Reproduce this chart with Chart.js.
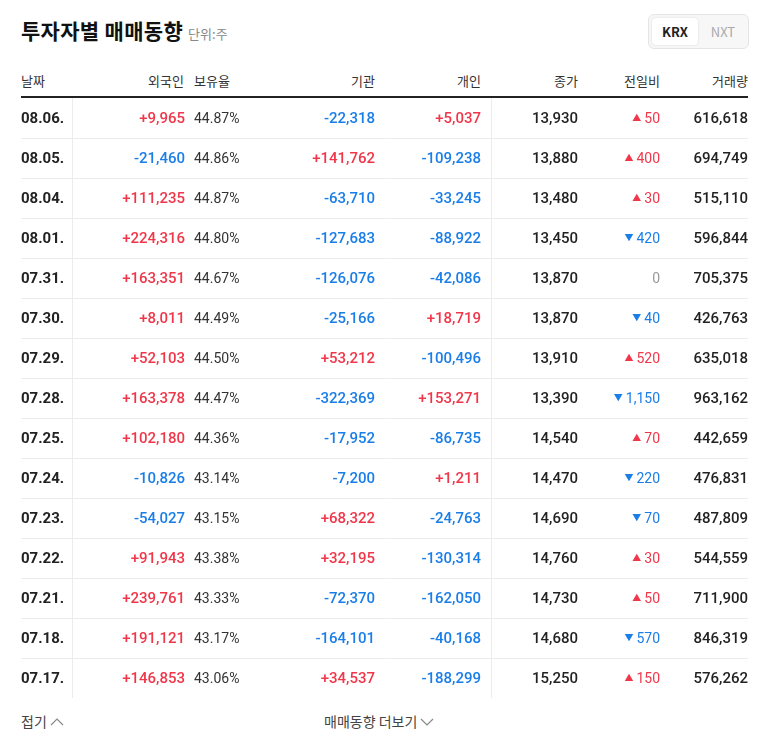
<!DOCTYPE html>
<html><head><meta charset="utf-8">
<script src="https://cdn.jsdelivr.net/npm/chart.js@4.4.0/dist/chart.umd.min.js"></script>
<style>
body{margin:0;background:#fff;font-family:"Noto Sans CJK KR","Noto Sans",sans-serif;width:768px;height:749px;position:relative;overflow:hidden;color:#222}
.a{position:absolute;white-space:nowrap}
.h{top:71px;font-size:13px;color:#333}
</style></head><body>
<div class="a" style="left:21px;top:15px;font-size:21px;font-weight:700;color:#111;letter-spacing:0.3px">투자자별 매매동향 <span style="font-size:13px;font-weight:400;color:#888;letter-spacing:0">단위:주</span></div>
<div class="a" style="left:648px;top:14px;width:99px;height:33px;border:1px solid #e5e5e5;border-radius:6px;background:#f7f7f7"></div>
<div class="a" style="left:652px;top:18px;width:46px;height:27px;background:#fff;border-radius:4px;box-shadow:0 0 2px rgba(0,0,0,.15);font-size:13px;font-weight:700;text-align:center;line-height:27px">KRX</div>
<div class="a" style="left:700px;top:18px;width:46px;height:27px;font-size:13px;color:#aaa;text-align:center;line-height:27px">NXT</div>
<div class="a h" style="left:21px">날짜</div>
<div class="a h" style="right:584px">외국인</div>
<div class="a h" style="left:194px">보유율</div>
<div class="a h" style="right:393px">기관</div>
<div class="a h" style="right:287px">개인</div>
<div class="a h" style="right:190px">종가</div>
<div class="a h" style="right:108px">전일비</div>
<div class="a h" style="right:20px">거래량</div>
<div class="a" style="left:21px;top:96px;width:727px;height:2px;background:#222"></div>
<div class="a" style="left:0;top:98px;width:768px;height:600px"><canvas id="c"></canvas></div>
<div class="a" style="left:21px;top:711px;font-size:14px;color:#444">접기<svg width="14" height="10" style="margin-left:3px"><path d="M1 8 L7 2 L13 8" fill="none" stroke="#888" stroke-width="1.2"/></svg></div>
<div class="a" style="left:324px;top:711px;font-size:14px;color:#444">매매동향 더보기<svg width="14" height="10" style="margin-left:3px"><path d="M1 2 L7 8 L13 2" fill="none" stroke="#888" stroke-width="1.2"/></svg></div>
<script>
const dates=["08.06.","08.05.","08.04.","08.01.","07.31.","07.30.","07.29.","07.28.","07.25.","07.24.","07.23.","07.22.","07.21.","07.18.","07.17."];
const foreign=[9965,-21460,111235,224316,163351,8011,52103,163378,102180,-10826,-54027,91943,239761,191121,146853];
const holding=[44.87,44.86,44.87,44.80,44.67,44.49,44.50,44.47,44.36,43.14,43.15,43.38,43.33,43.17,43.06];
const inst=[-22318,141762,-63710,-127683,-126076,-25166,53212,-322369,-17952,-7200,68322,32195,-72370,-164101,34537];
const indiv=[5037,-109238,-33245,-88922,-42086,18719,-100496,153271,-86735,1211,-24763,-130314,-162050,-40168,-188299];
const closes=[13930,13880,13480,13450,13870,13870,13910,13390,14540,14470,14690,14760,14730,14680,15250];
const change=[50,400,30,-420,0,-40,520,-1150,70,-220,-70,30,50,-570,150];
const volume=[616618,694749,515110,596844,705375,426763,635018,963162,442659,476831,487809,544559,711900,846319,576262];
const RED="#f0374a",BLUE="#1a7ee8";
const fmt=n=>Math.abs(n).toLocaleString('en-US');
const sg=n=>(n>0?"+":n<0?"-":"")+fmt(n);
const col=n=>n>0?RED:n<0?BLUE:"#999";
const F='Roboto,"Noto Sans CJK KR",sans-serif';
const table={id:'table',afterDraw(ch){
 const c=ch.ctx,y=ch.scales.y,x=ch.scales.x;
 const X=v=>x.getPixelForValue(v);
 c.save();
 c.strokeStyle="#ececec";c.lineWidth=1;
 for(let i=0;i<dates.length-1;i++){const yy=Math.round((y.getPixelForValue(i)+y.getPixelForValue(i+1))/2)+0.5;c.beginPath();c.moveTo(X(21),yy);c.lineTo(X(748),yy);c.stroke();}
 [72,491].forEach(v=>{c.beginPath();c.moveTo(X(v)+0.5,0);c.lineTo(X(v)+0.5,600);c.stroke();});
 c.textBaseline="middle";
 dates.forEach((d,i)=>{
  const yy=y.getPixelForValue(i)+1;
  const t=(s,xv,al,color,w,sz)=>{c.font=(w||"700")+" "+(sz||15)+"px "+F;c.fillStyle=color;c.textAlign=al;c.fillText(s,X(xv),yy);};
  t(d,21,"left","#222");
  t(sg(foreign[i]),185,"right",col(foreign[i]),"500");
  t(holding[i].toFixed(2)+"%",194,"left","#333","400",14);
  t(sg(inst[i]),375,"right",col(inst[i]),"500");
  t(sg(indiv[i]),481,"right",col(indiv[i]),"500");
  t(fmt(closes[i]),578,"right","#222","500");
  const ch2=change[i];
  c.font="400 14px "+F;const w=c.measureText(fmt(ch2)).width;
  t(fmt(ch2),660,"right",col(ch2),"400",14);
  if(ch2!==0)t(ch2>0?"▲":"▼",660-w-3,"right",col(ch2),"400",9);
  t(fmt(volume[i]),748,"right","#222","500");
 });
 c.restore();
}};
new Chart(document.getElementById('c'),{type:'bar',
 data:{labels:dates,datasets:[{data:dates.map(()=>null)}]},
 options:{indexAxis:'y',responsive:true,maintainAspectRatio:false,animation:false,
  layout:{padding:0},plugins:{legend:{display:false},tooltip:{enabled:false}},
  scales:{x:{type:'linear',min:0,max:768,display:false},y:{type:'category',display:false}}},
 plugins:[table]});
</script></body></html>
